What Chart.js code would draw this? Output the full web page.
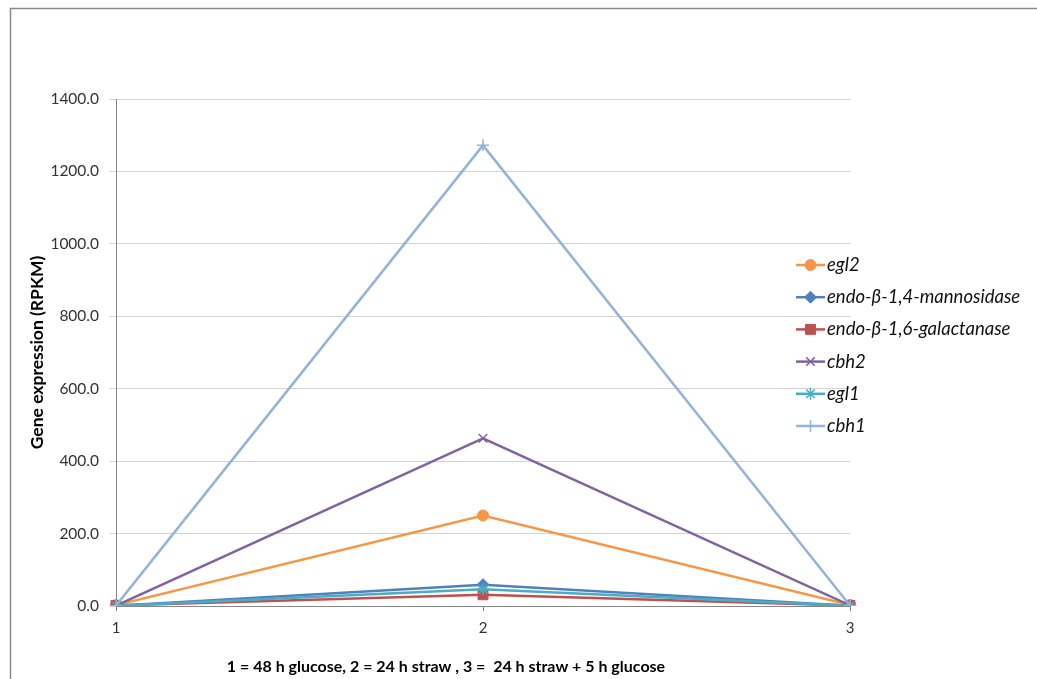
<!DOCTYPE html>
<html>
<head>
<meta charset="utf-8">
<script src="https://cdn.jsdelivr.net/npm/chart.js@4/dist/chart.umd.min.js"></script>
<style>
html,body{margin:0;padding:0;background:#fff;}
#wrap{width:1037px;height:679px;position:relative;}
</style>
</head>
<body>
<div id="wrap"><canvas id="c" width="1037" height="679"></canvas></div>
<script>
const categories = ['1', '2', '3'];
const seriesNames = ['egl2', 'endo-β-1,4-mannosidase', 'endo-β-1,6-galactanase', 'cbh2', 'egl1', 'cbh1'];
const egl2 = [2.5, 250, 3];
const mannosidase = [0.5, 59, 0.8];
const galactanase = [1.5, 31, 1.2];
const cbh2 = [1, 463, 2];
const egl1 = [0.5, 46, 0.5];
const cbh1 = [1, 1272, 1.5];
const yTicks = [0, 200, 400, 600, 800, 1000, 1200, 1400];
const yTitle = 'Gene expression (RPKM)';
const xTitle = '1 = 48 h glucose, 2 = 24 h straw , 3 =  24 h straw + 5 h glucose';

const seriesValues = [egl2, mannosidase, galactanase, cbh2, egl1, cbh1];
const colors = ['#F79646', '#4F81BD', '#C0504D', '#8064A2', '#4BACC6', '#95B3D7'];
const styles = ['circle', 'rectRot', 'rect', 'crossRot', 'star', 'cross'];
const radii = [5.5, 6, 7, 6, 6, 6];

const datasets = seriesNames.map((n, i) => ({
  label: n,
  data: seriesValues[i],
  borderColor: colors[i],
  backgroundColor: colors[i],
  pointBorderColor: colors[i],
  pointBackgroundColor: colors[i],
  pointStyle: styles[i],
  pointRadius: radii[i],
  pointBorderWidth: (styles[i] === 'crossRot' || styles[i] === 'star' || styles[i] === 'cross') ? 1.5 : 1,
  borderWidth: 2.5,
  tension: 0,
  order: seriesNames.length - i
}));

const FONT = 'Lato, "Open Sans", sans-serif';

const decor = {
  id: 'decor',
  afterDraw(chart) {
    const ctx = chart.ctx;
    ctx.save();
    ctx.strokeStyle = '#8a8a8a';
    ctx.lineWidth = 1.5;
    ctx.beginPath();
    ctx.moveTo(10.5, 679);
    ctx.lineTo(10.5, 8.5);
    ctx.lineTo(1037, 8.5);
    ctx.stroke();
    ctx.fillStyle = '#000';
    ctx.font = 'bold 16px ' + FONT;
    ctx.textAlign = 'center';
    ctx.textBaseline = 'middle';
    ctx.fillText(xTitle, 446, 667);
    const ds = chart.data.datasets;
    ds.forEach((d, i) => {
      const y = 265 + i * 32.2;
      ctx.strokeStyle = d.borderColor;
      ctx.lineWidth = 2.5;
      ctx.beginPath();
      ctx.moveTo(796, y);
      ctx.lineTo(825, y);
      ctx.stroke();
      ctx.fillStyle = d.backgroundColor;
      ctx.strokeStyle = d.borderColor;
      ctx.lineWidth = d.pointBorderWidth;
      Chart.helpers.drawPoint(ctx, {pointStyle: d.pointStyle, rotation: 0, radius: d.pointRadius, borderWidth: d.pointBorderWidth}, 810.5, y);
      ctx.fillStyle = '#111';
      ctx.font = 'italic 18.5px ' + FONT;
      ctx.textAlign = 'left';
      ctx.textBaseline = 'middle';
      ctx.fillText(d.label, 827, y);
    });
    ctx.restore();
  }
};

new Chart(document.getElementById('c'), {
  type: 'line',
  data: { labels: categories, datasets: datasets },
  plugins: [decor],
  options: {
    responsive: false,
    animation: false,
    devicePixelRatio: 1,
    layout: { padding: { left: 25, right: 187, top: 99, bottom: 0 } },
    plugins: { legend: { display: false }, tooltip: { enabled: false } },
    scales: {
      x: {
        type: 'category',
        offset: false,
        afterFit(s) { s.height = 73; },
        grid: { drawOnChartArea: false, drawTicks: true, tickLength: 5, color: '#868686' },
        border: { color: '#868686', width: 1 },
        ticks: { color: '#333', font: { family: FONT, size: 15 }, padding: 8, maxRotation: 0 }
      },
      y: {
        min: 0, max: 1400,
        afterFit(s) { s.width = 91; },
        afterBuildTicks(s) { s.ticks = yTicks.map(v => ({ value: v })); },
        grid: { color: '#D4D4D4', tickLength: 6, lineWidth: 1 },
        border: { color: '#868686', width: 1 },
        ticks: { color: '#333', font: { family: FONT, size: 15.5 }, padding: 11, callback: v => Number(v).toFixed(1) },
        title: { display: true, text: yTitle, color: '#000', font: { family: FONT, size: 17.5, weight: 'bold' }, padding: 2 }
      }
    }
  }
});
</script>
</body>
</html>
